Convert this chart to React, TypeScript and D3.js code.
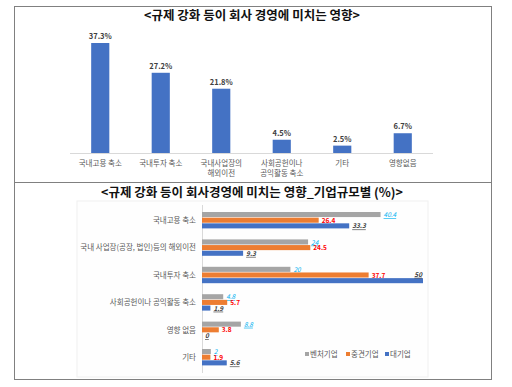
import * as d3 from 'd3';
import { useEffect, useRef } from 'react';

const topCategories = ['국내고용 축소', '국내투자 축소', '국내사업장의\n해외이전', '사회공헌이나\n공익활동 축소', '기타', '영향없음'];
const topValues = [37.3, 27.2, 21.8, 4.5, 2.5, 6.7];

const sizeCategories = ['국내고용 축소', '국내 사업장(공장, 법인)등의 해외이전', '국내투자 축소', '사회공헌이나 공익활동 축소', '영향 없음', '기타'];
const seriesNames = ['벤처기업', '중견기업', '대기업'];
const ventureValues = [40.4, 24, 20, 4.8, 8.8, 2];
const midValues = [26.4, 24.5, 37.7, 5.7, 3.8, 1.9];
const largeValues = [33.3, 9.3, 50, 1.9, 0, 5.6];

const FONT = '"Noto Sans CJK KR", "Noto Sans", sans-serif';

export default function App() {
  const ref = useRef<HTMLDivElement>(null);

  useEffect(() => {
    const width = 512;
    const height = 387;
    const svg = d3.create('svg')
      .attr('width', width)
      .attr('height', height)
      .style('position', 'absolute')
      .style('left', '0px')
      .style('top', '0px')
      .style('background', '#fff');

    // frame
    svg.append('rect')
      .attr('x', 14.5).attr('y', 6.5)
      .attr('width', 477).attr('height', 373)
      .attr('fill', 'none').attr('stroke', '#808080');
    svg.append('line')
      .attr('x1', 14.5).attr('x2', 491.5)
      .attr('y1', 182.5).attr('y2', 182.5)
      .attr('stroke', '#808080');

    // ---- top chart ----
    svg.append('text')
      .attr('x', 252).attr('y', 19.5)
      .attr('text-anchor', 'middle')
      .attr('font-family', FONT).attr('font-weight', 700).attr('font-size', 12.5)
      .attr('fill', '#111')
      .text('<규제 강화 등이 회사 경영에 미치는 영향>');

    const x1 = d3.scaleBand().domain(topCategories).range([70, 433]).paddingInner(0.7).paddingOuter(0.35);
    const y1 = d3.scaleLinear().domain([0, 37.3]).range([153, 43]);

    svg.append('line')
      .attr('x1', 70).attr('x2', 433).attr('y1', 153.5).attr('y2', 153.5)
      .attr('stroke', '#d9d9d9');

    const g1 = svg.append('g');
    g1.selectAll('rect')
      .data(topValues)
      .join('rect')
      .attr('x', (d, i) => x1(topCategories[i])!)
      .attr('width', x1.bandwidth())
      .attr('y', d => y1(d))
      .attr('height', d => y1(0) - y1(d))
      .attr('fill', '#4472c4');

    g1.selectAll('text.val')
      .data(topValues)
      .join('text')
      .attr('class', 'val')
      .attr('x', (d, i) => x1(topCategories[i])! + x1.bandwidth() / 2)
      .attr('y', d => y1(d) - 4)
      .attr('text-anchor', 'middle')
      .attr('font-family', FONT).attr('font-weight', 700).attr('font-size', 7.5)
      .attr('fill', '#404040')
      .text(d => d + '%');

    const cat1 = g1.selectAll('text.cat')
      .data(topCategories)
      .join('text')
      .attr('class', 'cat')
      .attr('text-anchor', 'middle')
      .attr('font-family', FONT).attr('font-size', 7.5)
      .attr('fill', '#595959');
    cat1.each(function (d) {
      const t = d3.select(this);
      const cx = x1(d)! + x1.bandwidth() / 2;
      d.split('\n').forEach((line, j) => {
        t.append('tspan').attr('x', cx).attr('y', 166 + j * 10).text(line);
      });
    });

    // ---- bottom chart ----
    svg.append('text')
      .attr('x', 252).attr('y', 196.5)
      .attr('text-anchor', 'middle')
      .attr('font-family', FONT).attr('font-weight', 700).attr('font-size', 12.5)
      .attr('fill', '#111')
      .text('<규제 강화 등이 회사경영에 미치는 영향_기업규모별 (%)>');

    svg.append('rect')
      .attr('x', 77).attr('y', 201)
      .attr('width', 351).attr('height', 176)
      .attr('fill', '#fefefe').attr('stroke', '#f0f0f0');

    const x2 = d3.scaleLinear().domain([0, 50]).range([202, 423]);
    const y2 = d3.scaleBand().domain(sizeCategories).range([206.8, 371.2]).paddingInner(0.38).paddingOuter(0.19);
    const ySub = d3.scaleBand().domain(seriesNames).range([0, y2.bandwidth()]);

    const colors = ['#a5a5a5', '#ed7d31', '#4472c4'];
    const labelColors = ['#00b0f0', '#ff0000', '#404040'];
    const allSeries = [ventureValues, midValues, largeValues];

    svg.append('line')
      .attr('x1', 202.5).attr('x2', 202.5)
      .attr('y1', 205).attr('y2', 373)
      .attr('stroke', '#d9d9d9');

    svg.append('g')
      .attr('transform', 'translate(196,0)')
      .call(d3.axisLeft(y2).tickSize(0).tickPadding(0))
      .call(g => g.select('.domain').remove())
      .call(g => g.selectAll('text')
        .attr('font-family', FONT).attr('font-size', 7.5)
        .attr('fill', '#595959'));

    allSeries.forEach((vals, s) => {
      const g = svg.append('g');
      g.selectAll('rect')
        .data(vals)
        .join('rect')
        .attr('x', x2(0))
        .attr('y', (d, i) => y2(sizeCategories[i])! + ySub(seriesNames[s])!)
        .attr('width', d => x2(d) - x2(0))
        .attr('height', ySub.bandwidth() - 0.6)
        .attr('fill', colors[s]);

      g.selectAll('text')
        .data(vals)
        .join('text')
        .attr('x', d => d >= 50 ? x2(d) - 1 : x2(d) + 3)
        .attr('y', (d, i) => y2(sizeCategories[i])! + ySub(seriesNames[s])! + ySub.bandwidth() / 2 - (d >= 50 ? 6.5 : 0))
        .attr('dy', '0.35em')
        .attr('text-anchor', d => d >= 50 ? 'end' : 'start')
        .attr('font-family', FONT).attr('font-size', 6.5)
        .attr('font-weight', s === 0 ? 400 : 700)
        .attr('font-style', s === 1 ? 'normal' : 'italic')
        .attr('text-decoration', s === 1 ? 'none' : 'underline')
        .attr('fill', labelColors[s])
        .text(d => String(d));
    });

    // legend
    const legend = svg.append('g').attr('transform', 'translate(305,357)');
    const legendX = [0, 41, 80];
    seriesNames.forEach((name, i) => {
      legend.append('rect')
        .attr('x', legendX[i]).attr('y', -5)
        .attr('width', 4).attr('height', 4)
        .attr('fill', colors[i]);
      legend.append('text')
        .attr('x', legendX[i] + 5).attr('y', 0)
        .attr('font-family', FONT).attr('font-size', 7.5)
        .attr('fill', '#595959')
        .text(name);
    });

    ref.current!.append(svg.node()!);
    return () => { svg.remove(); };
  }, []);

  return <div ref={ref}></div>;
}
